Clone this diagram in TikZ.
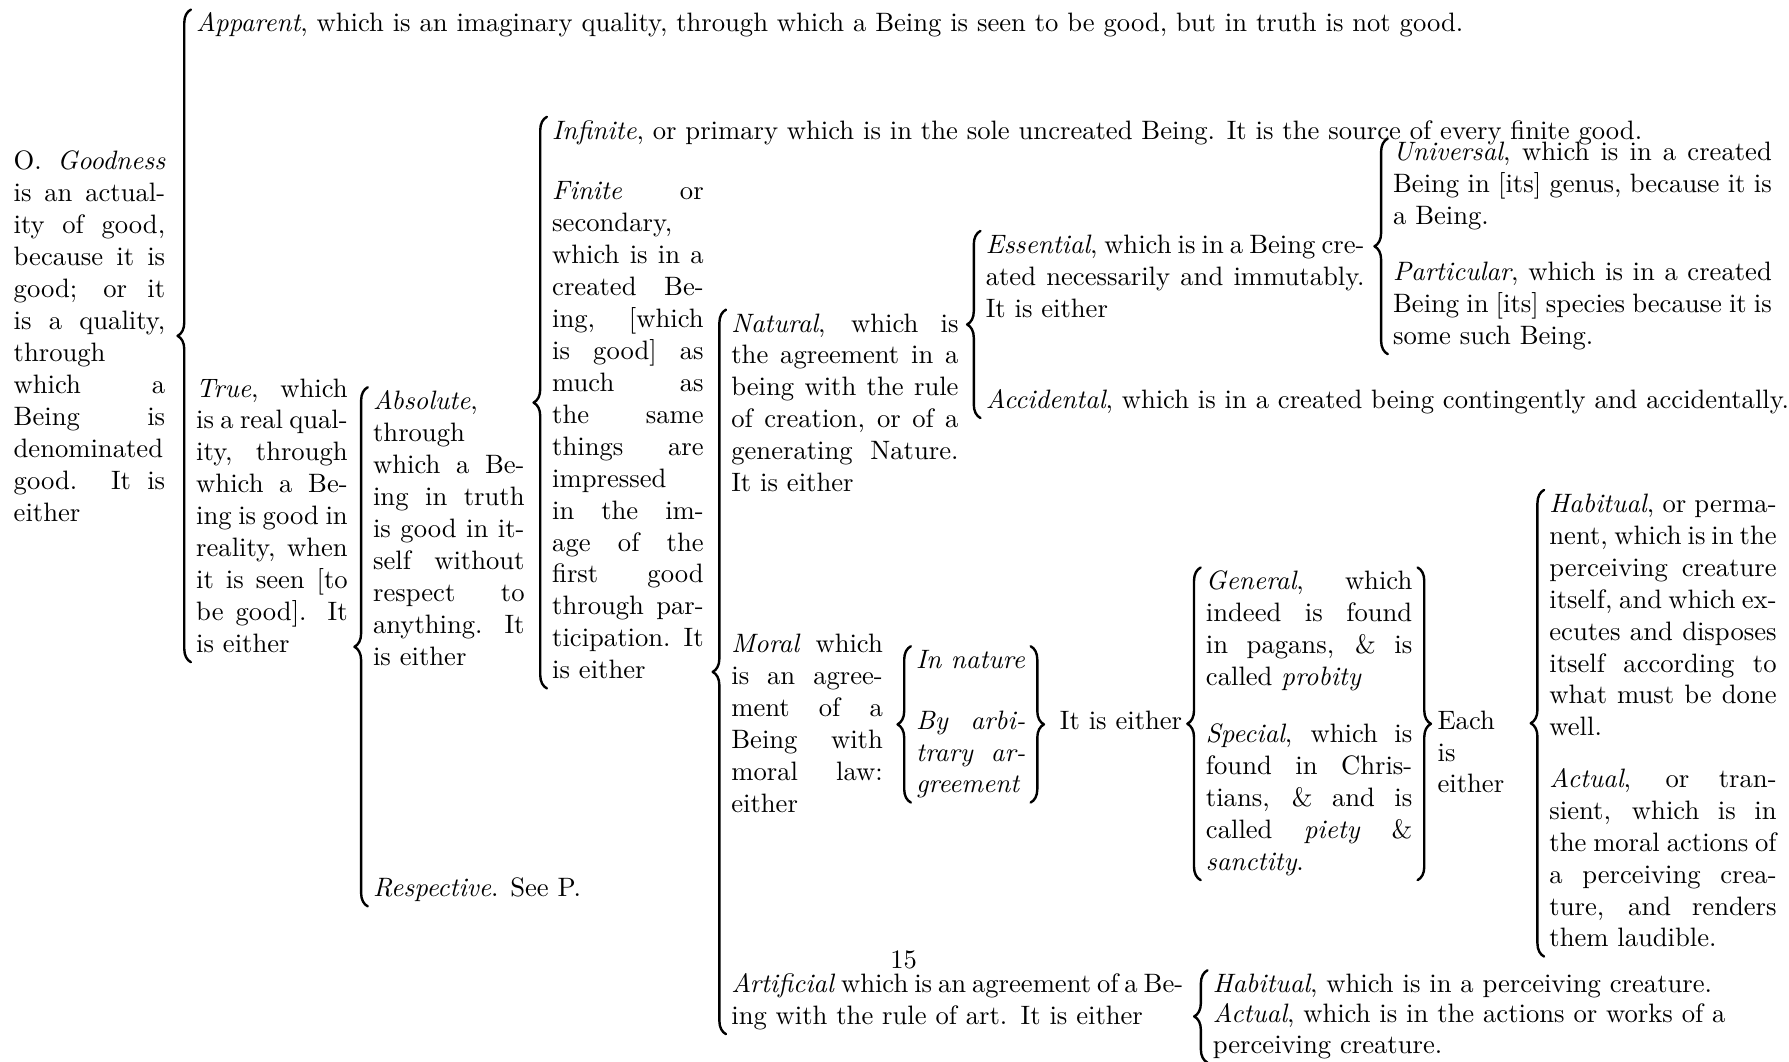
\documentclass[tikz,border=0pt]{standalone}
\usetikzlibrary{decorations.pathreplacing}
\begin{document}
\begin{tikzpicture}[x=0.4286pt, y=-0.4286pt, line join=round, line cap=round,
  txt/.style={anchor=base west, inner sep=0pt, outer sep=0pt,
    execute at begin node=\strut, execute at end node=\strut},
  para/.style={txt, text width=#1, align=justify},
  curly/.style={decorate, decoration={brace, amplitude=5pt}, line width=0.9pt}]
\useasboundingbox (0,-2) rectangle (1568,928);

\node[para=2cm] (goodness) at (12,147) {O. \textit{Goodness} is an actuality of good, because it is good; or it is a quality, through which a Being is denominated good. It is either};
\node[txt] (apparent) at (172,26) {\textit{Apparent}, which is an imaginary quality, through which a Being is seen to be good, but in truth is not good.};
\node[para=2cm] (true) at (172,346) {\textit{True}, which is a real quality, through which a Being is good in reality, when it is seen [to be good]. It is either};
\node[para=2cm] (absolute) at (327,357) {\textit{Absolute}, through which a Being in truth is good in itself without respect to anything. It is either};
\node[txt] (respective) at (327,784) {\textit{Respective}. See P.};
\node[txt] (infinite) at (484,120) {\textit{Infinite}, or primary which is in the sole uncreated Being. It is the source of every finite good.};
\node[para=2cm] (finite) at (484,173) {\textit{Finite} or secondary, which is in a created Being, [which is good] as much as the same things are impressed in the image of the first good through participation. It is either};
\node[para=3cm] (natural) at (641,289) {\textit{Natural}, which is the agreement in a being with the rule of creation, or of a generating Nature. It is either};
\node[para=5cm] (essential) at (864,220) {\textit{Essential}, which is in a Being created necessarily and immutably. It is either};
\node[txt] (accidental) at (864,356) {\textit{Accidental}, which is in a created being contingently and accidentally.};
\node[para=5cm] (universal) at (1221,139) {\textit{Universal}, which is in a created Being in [its] genus, because it is a Being.};
\node[para=5cm] (particular) at (1221,244) {\textit{Particular}, which is in a created Being in [its] species because it is some such Being.};
\node[para=2cm] (moral) at (641,570) {\textit{Moral} which is an agreement of a Being with moral law: either};
\node[para=41pt] (innature) at (803,584) {\textit{In nature}};
\node[para=41pt] (arbitrary) at (803,637) {\textit{By arbi-\linebreak trary ar-\linebreak greement}};
\node[txt] (itis) at (929,637) {It is either};
\node[para=77.5pt] (general) at (1057,515) {\textit{General}, which indeed is found in pagans, \& is called \textit{probity}};
\node[para=77.5pt] (special) at (1057,649) {\textit{Special}, which is found in Christians, \& and is called \textit{piety} \& \textit{sanctity}.};
\node[para=1cm] (each) at (1260,637) {Each is either};
\node[para=3cm] (habitual) at (1358,447) {\textit{Habitual}, or permanent, which is in the perceiving creature itself, and which executes and disposes itself according to what must be done well.};
\node[para=3cm] (actual) at (1358,688) {\textit{Actual}, or transient, which is in the moral actions of a perceiving creature, and renders them laudible.};
\node[txt, anchor=base] (pagenum) at (792,847) {15};
\node[txt, text width=170pt, align=left] (artificial) at (641,868) {{\spaceskip=2.22pt\relax\textit{Artificial} which is an agreement of a Be-}\\ ing with the rule of art. It is either};
\node[txt, text width=7.5cm, align=left] (arthabit) at (1063,868) {\textit{Habitual}, which is in a perceiving creature.\\[-0.65pt]
  \textit{Actual}, which is in the actions or works of a\\[-0.65pt] perceiving creature.};

% opening braces: first child / last child
\foreach \a/\b in {apparent/true, absolute/respective, infinite/finite,
    natural/artificial, essential/accidental, universal/particular,
    innature/arbitrary, general/special, habitual/actual, arthabit/arthabit}
  \draw[curly] ([xshift=-2pt]\b.south west) -- ([xshift=-2pt]\a.north west);
% closing braces
\foreach \a/\b in {innature/arbitrary, general/special}
  \draw[curly] ([xshift=2pt]\a.north east) -- ([xshift=2pt]\b.south east);
\end{tikzpicture}
\end{document}
